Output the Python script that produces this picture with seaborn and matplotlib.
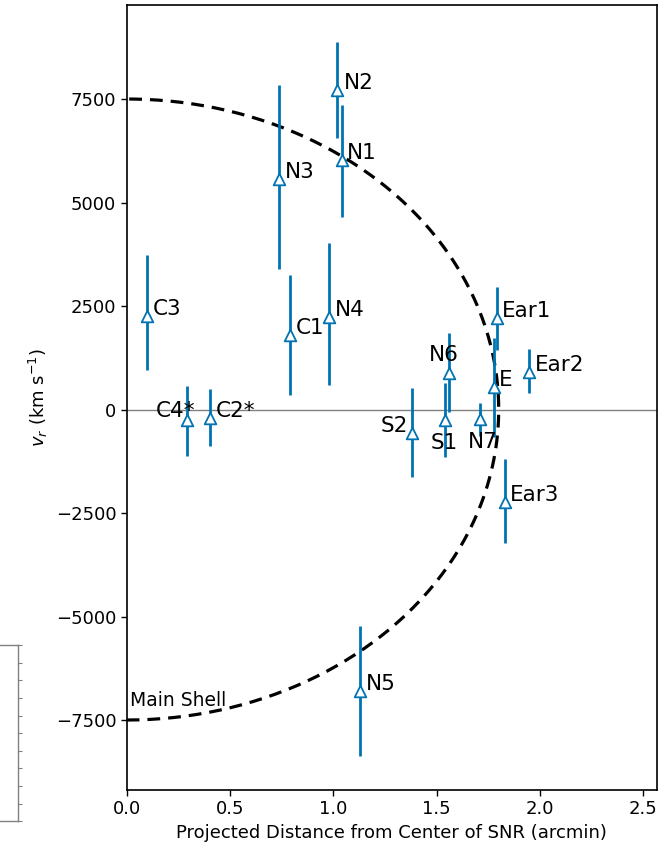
import numpy as np
import pandas as pd
import matplotlib
matplotlib.use("Agg")
import matplotlib.pyplot as plt
import seaborn as sns

names = ["N2", "N1", "N3", "C1", "N4", "C3", "C4*", "C2*", "S2", "S1", "N6", "N7", "E", "Ear1", "Ear2", "Ear3", "N5"]
dist = [1.02, 1.04, 0.738, 0.79, 0.979, 0.098, 0.29, 0.403, 1.38, 1.54, 1.559, 1.709, 1.777, 1.79, 1.948, 1.83, 1.129]
vel = [7716, 6025, 5567, 1799, 2241, 2258, -254, -198, -565, -254, 874, -237, 536, 2202, 913, -2226, -6791]
err_lo = [1150, 1375, 2174, 1450, 1650, 1300, 870, 680, 1060, 890, 930, 400, 1190, 770, 520, 1010, 1590]
err_hi = [1160, 1330, 2270, 1450, 1790, 1470, 820, 690, 1080, 890, 970, 390, 1200, 760, 540, 1030, 1560]

# label offsets in pixels (right, down) of the text baseline-left from the marker
label_dx_px = [6, 5, 6, 6, 6, 6, -31, 6, -31, -14, -20, -12, 5, 5, 6, 5, 6]
label_dy_px = [-1, -1, -1, -1, -1, -1, -3, -1, -1, 29, -12, 29, -1, -1, -1, -1, -1]

shell_vmax = 7500
shell_rmax = 1.8

df = pd.DataFrame({"name": names, "d": dist, "v": vel})

sns.set_style("ticks")
plt.rcParams['font.family'] = ['DejaVu Sans']
plt.rcParams['mathtext.fontset'] = 'dejavusans'
plt.rcParams['text.color'] = 'black'
plt.rcParams['axes.labelcolor'] = 'black'

fig = plt.figure(figsize=(6.66, 8.51), dpi=100)
ax = fig.add_axes([0.1902, 0.0717, 0.7963, 0.9224])

blue = "#0173B2"
ax.axhline(0, color="gray", lw=1.0, zorder=1)

th = np.linspace(-np.pi / 2, np.pi / 2, 300)
shell = pd.DataFrame({"x": shell_rmax * np.cos(th), "y": shell_vmax * np.sin(th)})
sns.lineplot(data=shell, x="x", y="y", sort=False, estimator=None, ax=ax, color="black",
             lw=2.3, linestyle=(0, (4, 2.5)), zorder=2)

ax.errorbar(df["d"], df["v"], yerr=[err_lo, err_hi], fmt="none", ecolor=blue,
            elinewidth=2, zorder=3)
sns.scatterplot(data=df, x="d", y="v", ax=ax, marker="^", s=70, facecolor="white",
                edgecolor=blue, linewidth=1.3, zorder=4)

for n, x, y, dx, dy in zip(names, dist, vel, label_dx_px, label_dy_px):
    ax.annotate(n, (x, y), xytext=(dx * 0.72, -dy * 0.72), textcoords="offset points",
                fontsize=15.5, ha="left", va="baseline", color="black", zorder=5)

ax.text(0.016, -7160, "Main Shell", fontsize=13.5, ha="left", va="baseline", color="black")

ax.set_xlim(0, 2.566)
ax.set_ylim(-9190, 9770)
ax.set_xticks([0, 0.5, 1.0, 1.5, 2.0, 2.5])
ax.set_yticks([-7500, -5000, -2500, 0, 2500, 5000, 7500])
ax.tick_params(labelsize=13, direction="out", length=4, width=1, colors="black")
for s in ax.spines.values():
    s.set_visible(True)
    s.set_color("black")
    s.set_linewidth(1.2)
ax.set_xlabel("Projected Distance from Center of SNR (arcmin)", fontsize=13, color="black")
ax.set_ylabel(r"$v_r$ (km s$^{-1}$)", fontsize=13, color="black")

# cropped fragment of a neighbouring panel at the lower-left edge
ax2 = fig.add_axes([-0.05, 0.035, 0.077, 0.207])
ax2.set_xticks([])
ax2.yaxis.tick_right()
ax2.set_ylim(0, 10)
ax2.set_yticks(np.arange(0, 10.5, 1))
ax2.tick_params(axis="y", labelright=False, length=3, colors="gray")
for s in ax2.spines.values():
    s.set_color("gray")
    s.set_linewidth(1.0)

fig.savefig("out.png", dpi=100)
